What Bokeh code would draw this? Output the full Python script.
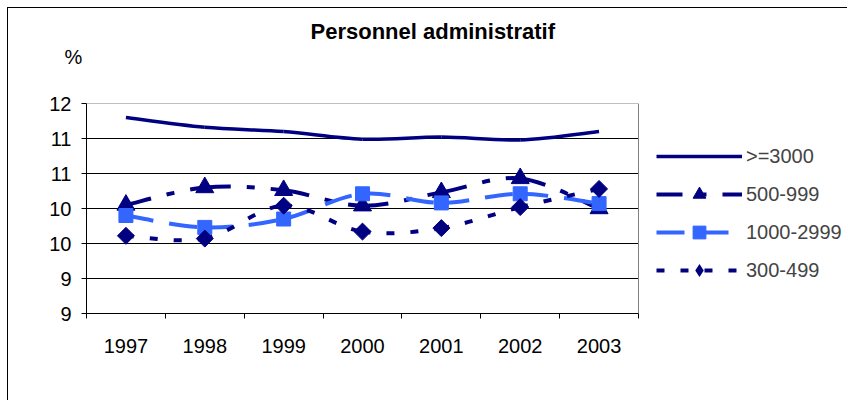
import numpy as np
from bokeh.plotting import figure
from bokeh.models import FixedTicker, Legend, LegendItem, Range1d, Title
from bokeh.embed import file_html
from bokeh.resources import INLINE

# ---- data ----
years = [1997, 1998, 1999, 2000, 2001, 2002, 2003]
year_labels = ["1997", "1998", "1999", "2000", "2001", "2002", "2003"]
s_ge3000 = [11.30, 11.16, 11.10, 10.99, 11.02, 10.98, 11.10]
s_500_999 = [10.05, 10.30, 10.26, 10.04, 10.23, 10.43, 10.00]
s_1000_2999 = [9.90, 9.73, 9.85, 10.21, 10.08, 10.21, 10.07]
s_300_499 = [9.61, 9.57, 10.04, 9.67, 9.72, 10.02, 10.28]
series_names = [">=3000", "500-999", "1000-2999", "300-499"]
y_ticks = [8.5, 9.0, 9.5, 10.0, 10.5, 11.0, 11.5]
y_tick_labels = ["9", "9", "10", "10", "11", "11", "12"]
title_text = "Personnel administratif"
unit_text = "%"

NAVY = "#000080"
LIGHT = "#3366FF"
GRAYB = "#808080"
FONT = "Liberation Sans"

CW, CH = 840, 393          # canvas size
FL, FT, FB = 78, 95, 88    # frame borders (left, top, bottom); frame runs to right edge
PLOT_W = 552               # width of the category area inside the frame
x_start = years[0] - 0.5
x_stop = years[-1] + 0.5
x_end = x_start + (x_stop - x_start) * (CW - FL) / PLOT_W

p = figure(width=CW, height=CH, output_backend="svg", toolbar_location=None,
           x_range=Range1d(x_start, x_end), y_range=Range1d(y_ticks[0], y_ticks[-1]),
           min_border_left=FL, min_border_right=0, min_border_top=FT, min_border_bottom=FB)
p.styles = {"margin-left": "8px", "margin-top": "8px",
            "box-shadow": "-1px -1px 0px 0px #000000"}
p.background_fill_color = "white"
p.border_fill_color = "white"
p.outline_line_color = None

# axes
p.xaxis.ticker = FixedTicker(ticks=years, minor_ticks=[y - 0.5 for y in years] + [x_stop])
p.xaxis.bounds = (x_start, x_stop)
p.xaxis.major_label_overrides = {y: l for y, l in zip(years, year_labels)}
p.xaxis.major_tick_out = 0
p.xaxis.major_tick_in = 0
p.xaxis.minor_tick_out = 5
p.xaxis.minor_tick_in = 0
p.xaxis.minor_tick_line_color = "black"
p.xaxis.axis_line_color = "black"
p.xaxis.major_label_standoff = 20
p.xaxis.major_label_text_font = FONT
p.xaxis.major_label_text_font_size = "20px"
p.xaxis.major_label_text_color = "black"

p.yaxis.ticker = FixedTicker(ticks=y_ticks)
p.yaxis.major_label_overrides = {t: l for t, l in zip(y_ticks, y_tick_labels)}
p.yaxis.major_tick_out = 5
p.yaxis.major_tick_in = 0
p.yaxis.minor_tick_line_color = None
p.yaxis.axis_line_color = "black"
p.yaxis.major_label_standoff = 10
p.yaxis.major_label_text_font = FONT
p.yaxis.major_label_text_font_size = "20px"
p.yaxis.major_label_text_color = "black"

p.xgrid.grid_line_color = None
p.ygrid.grid_line_color = None

# plot-area gridlines and border limited to the category area
inner = y_ticks[1:-1]
p.segment(x0=[x_start] * len(inner), x1=[x_stop] * len(inner), y0=inner, y1=inner,
          line_color="black", line_width=1)
p.segment(x0=[x_start, x_stop], x1=[x_stop, x_stop], y0=[y_ticks[-1], y_ticks[0]],
          y1=[y_ticks[-1], y_ticks[-1]], line_color=GRAYB, line_width=1)


def smooth(xs, ys):
    P = np.column_stack([np.asarray(xs, float), np.asarray(ys, float)])
    n = len(P)
    x0, y0, x1, y1, cx0, cy0, cx1, cy1 = ([] for _ in range(8))
    for i in range(n - 1):
        pm = P[i - 1] if i > 0 else P[i]
        pp = P[i + 2] if i + 2 < n else P[i + 1]
        c0 = P[i] + (P[i + 1] - pm) / 6.0
        c1 = P[i + 1] - (pp - P[i]) / 6.0
        x0.append(P[i, 0]); y0.append(P[i, 1])
        x1.append(P[i + 1, 0]); y1.append(P[i + 1, 1])
        cx0.append(c0[0]); cy0.append(c0[1])
        cx1.append(c1[0]); cy1.append(c1[1])
    return dict(x0=x0, y0=y0, x1=x1, y1=y1, cx0=cx0, cy0=cy0, cx1=cx1, cy1=cy1)


specs = [
    (s_ge3000, NAVY, "solid", 3.5, None, 0),
    (s_500_999, NAVY, "26 16 8 16", 4, "triangle", 18),
    (s_1000_2999, LIGHT, "28 16", 4, "square", 14),
    (s_300_499, NAVY, "8 16", 4, "diamond", 12),
]

items = []
for name, (vals, col, dash, lw, mk, sz) in zip(series_names, specs):
    b = p.bezier(line_color=col, line_width=lw, line_dash=dash, **smooth(years, vals))
    rs = [b]
    if mk == "diamond":
        p.scatter(years, vals, marker="square", angle=np.pi / 4, size=sz,
                  fill_color=col, line_color=col)
        # zero-size twin used only for the legend swatch (legend sizes markers itself)
        rs.append(p.scatter(years, vals, marker="diamond", size=0, fill_color=col,
                            line_color=col, line_width=0))
    elif mk is not None:
        rs.append(p.scatter(years, vals, marker=mk, size=sz, fill_color=col, line_color=col))
    items.append(LegendItem(label=name, renderers=rs))

legend = Legend(items=items, location=(570, 27), orientation="vertical",
                glyph_width=86, glyph_height=32, spacing=6, label_standoff=4,
                padding=0, margin=0, border_line_color=None, background_fill_alpha=0,
                label_text_font=FONT, label_text_font_size="20px", label_height=32)
p.add_layout(legend)

# stacked above the frame, from the frame outward: spacer, "%", title
p.add_layout(Title(text=" ", align="left", standoff=33, text_font=FONT,
                   text_font_size="1px"), "above")
p.add_layout(Title(text=unit_text, align="left", offset=-22, standoff=0,
                   text_font=FONT, text_font_style="normal", text_font_size="20px",
                   text_color="black"), "above")
p.add_layout(Title(text=title_text, align="left", offset=224, standoff=0,
                   text_font=FONT, text_font_style="bold", text_font_size="22px",
                   text_color="black"), "above")

open("out.html", "w").write(file_html(p, INLINE))
